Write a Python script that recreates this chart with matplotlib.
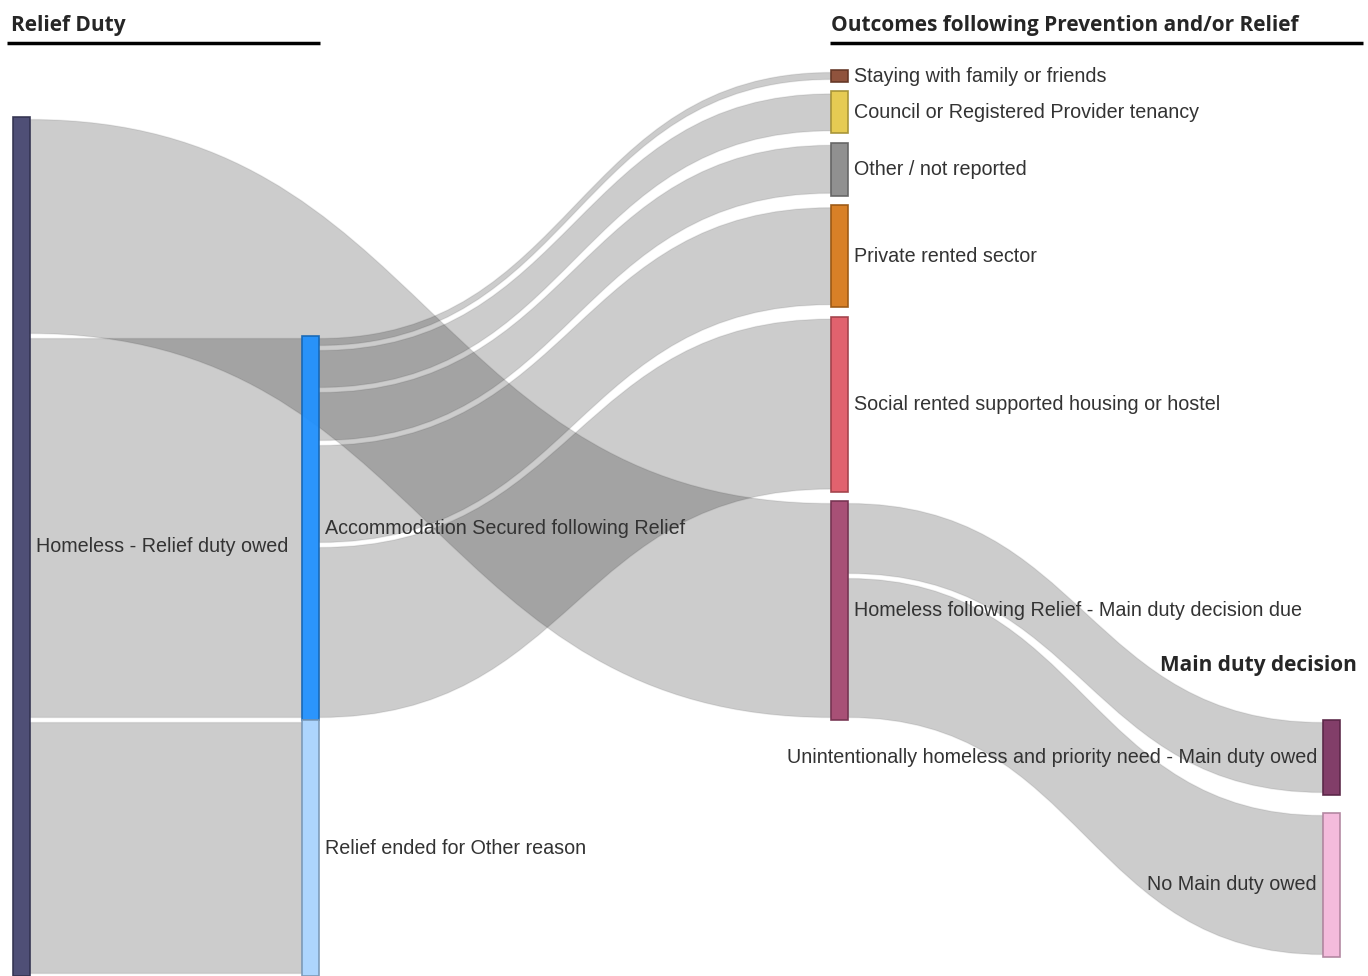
import numpy as np
import matplotlib.pyplot as plt
from matplotlib.path import Path
from matplotlib.patches import PathPatch, Rectangle
from matplotlib.colors import to_rgb

# %%
# Nodes of the Sankey (one column per stage)
node_names = [
    "Homeless - Relief duty owed",
    "Accommodation Secured following Relief",
    "Relief ended for Other reason",
    "Staying with family or friends",
    "Council or Registered Provider tenancy",
    "Other / not reported",
    "Private rented sector",
    "Social rented supported housing or hostel",
    "Homeless following Relief - Main duty decision due",
    "Unintentionally homeless and priority need - Main duty owed",
    "No Main duty owed",
]
node_column = [0, 1, 1, 2, 2, 2, 2, 2, 2, 3, 3]
node_colors = ["#45456f", "#1f8ffc", "#a9d3fd", "#8a4a32", "#e5c94a",
               "#8a8a8a", "#d6791b", "#e05a66", "#a3466f", "#7b3361", "#f4b8db"]

# Flows (source node, target node, households)
link_source = [0, 0, 0, 1, 1, 1, 1, 1, 8, 8]
link_target = [8, 1, 2, 3, 4, 5, 6, 7, 9, 10]
link_value = [219, 384, 256, 12, 42, 53, 102, 175, 75, 144]

column_titles = ["Relief Duty", "Outcomes following Prevention and/or Relief",
                 "Main duty decision"]

# %%
# Layout
col_x = [13, 302, 831, 1323]
node_w = 17
col_pad = [0, 0, 9.4, 18]
link_inset = 2.5

n = len(node_names)
out_sum = np.zeros(n)
in_sum = np.zeros(n)
out_off = []
in_off = []
for s, t, v in zip(link_source, link_target, link_value):
    out_off.append(out_sum[s])
    in_off.append(in_sum[t])
    out_sum[s] += v
    in_sum[t] += v
node_value = np.maximum(out_sum, in_sum)

node_y = np.zeros(n)


def stack(col, top):
    y = top
    for i in range(n):
        if node_column[i] == col:
            node_y[i] = y
            y += node_value[i] + col_pad[col]


stack(2, 70)
stack(1, 336)
# first column: link into "Accommodation Secured" runs horizontally
k = link_target.index(1)
stack(0, node_y[1] - out_off[k])
# last column starts below its source node
stack(3, node_y[8] + node_value[8])


def darker(c, f=0.72):
    r, g, b = to_rgb(c)
    return (r * f, g * f, b * f)


# %%
fig = plt.figure(figsize=(13.68, 9.76), dpi=100)
ax = fig.add_axes([0, 0, 1, 1])
ax.set_xlim(0, 1368)
ax.set_ylim(976, 0)
ax.axis("off")

# links
for j, (s, t, v) in enumerate(zip(link_source, link_target, link_value)):
    x0 = col_x[node_column[s]] + node_w
    x1 = col_x[node_column[t]]
    ys0 = node_y[s] + out_off[j] + link_inset
    ys1 = node_y[s] + out_off[j] + v - link_inset
    yt0 = node_y[t] + in_off[j] + link_inset
    yt1 = node_y[t] + in_off[j] + v - link_inset
    xm = (x0 + x1) / 2
    verts = [(x0, ys0), (xm, ys0), (xm, yt0), (x1, yt0),
             (x1, yt1), (xm, yt1), (xm, ys1), (x0, ys1), (x0, ys0)]
    codes = [Path.MOVETO, Path.CURVE4, Path.CURVE4, Path.CURVE4,
             Path.LINETO, Path.CURVE4, Path.CURVE4, Path.CURVE4, Path.CLOSEPOLY]
    ax.add_patch(PathPatch(Path(verts, codes), facecolor=(0, 0, 0, 0.2),
                           edgecolor=(0, 0, 0, 0.08), lw=1, zorder=1))

# nodes and labels
lbl = dict(fontsize=14.2, color="#333333", family="Liberation Sans", va="center", zorder=3)
for i in range(n):
    c = node_column[i]
    ax.add_patch(Rectangle((col_x[c], node_y[i]), node_w, node_value[i],
                           facecolor=node_colors[i], edgecolor=darker(node_colors[i]),
                           lw=1.2, alpha=0.95, zorder=2))
    yc = node_y[i] + node_value[i] / 2
    if c < 3:
        ax.text(col_x[c] + node_w + 6, yc, node_names[i], ha="left", **lbl)
    else:
        ax.text(col_x[c] - 6, yc, node_names[i], ha="right", **lbl)

# column headers
hdr = dict(fontsize=15, fontweight="bold", color="#262626", family="Open Sans", va="center")
ax.text(11, 25, column_titles[0], ha="left", **hdr)
ax.plot([7, col_x[1] + node_w + 1], [43, 43], color="black", lw=2.5, solid_capstyle="butt")
ax.text(col_x[2], 25, column_titles[1], ha="left", **hdr)
ax.plot([col_x[2] - 1, 1363], [43, 43], color="black", lw=2.5, solid_capstyle="butt")
ax.text(1357, 665, column_titles[2], ha="right", **hdr)

fig.savefig("out.png", dpi=100)
